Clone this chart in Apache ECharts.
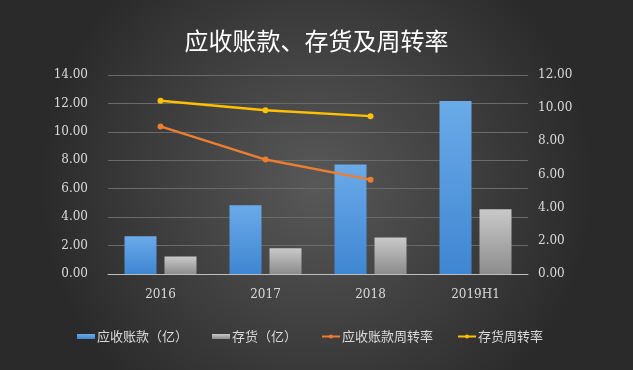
<!DOCTYPE html>
<html><head><meta charset="utf-8">
<script src="https://cdn.jsdelivr.net/npm/echarts@6/dist/echarts.min.js"></script>
<style>html,body{margin:0;padding:0;}#c{width:633px;height:370px;}</style>
</head><body><div id="c"></div>
<script>
const categories = ['2016', '2017', '2018', '2019H1'];
const receivables = [2.65, 4.83, 7.70, 12.17];
const inventory = [1.23, 1.82, 2.57, 4.55];
const receivableTurnover = [8.90, 6.90, 5.69, null];
const inventoryTurnover = [10.45, 9.87, 9.52, null];
const seriesNames = ['应收账款（亿）', '存货（亿）', '应收账款周转率', '存货周转率'];

const chart = echarts.init(document.getElementById('c'));
const axisFont = {color: '#d9d9d9', fontSize: 12, fontFamily: 'DejaVu Serif'};
chart.setOption({
  backgroundColor: {
    type: 'radial', x: 0.5, y: 0.5, r: 0.75,
    colorStops: [{offset: 0, color: '#585858'}, {offset: 1, color: '#2a2a2a'}]
  },
  title: {
    text: '应收账款、存货及周转率', left: 'center', top: 24,
    textStyle: {color: '#ffffff', fontSize: 24, fontWeight: 'normal', fontFamily: 'Noto Sans CJK SC'}
  },
  legend: {
    top: 325, left: 72, itemGap: 24, itemWidth: 18, itemHeight: 5,
    textStyle: {color: '#d9d9d9', fontSize: 13, fontFamily: 'Noto Sans CJK SC', padding: [0, 0, 0, -3]},
    data: [
      {name: seriesNames[0], icon: 'rect'},
      {name: seriesNames[1], icon: 'rect'},
      {name: seriesNames[2]},
      {name: seriesNames[3]}
    ]
  },
  grid: {left: 108, right: 105, top: 75, bottom: 96},
  xAxis: {
    type: 'category', data: categories,
    axisLine: {lineStyle: {color: '#bfbfbf', width: 1}},
    axisTick: {show: false},
    axisLabel: Object.assign({margin: 15}, axisFont)
  },
  yAxis: [
    {type: 'value', min: 0, max: 14, interval: 2,
     axisLine: {show: false}, axisTick: {show: false},
     splitLine: {lineStyle: {color: '#6a6a6a', width: 1}},
     axisLabel: Object.assign({margin: 20, formatter: v => v.toFixed(2)}, axisFont)},
    {type: 'value', min: 0, max: 12, interval: 2,
     axisLine: {show: false}, axisTick: {show: false}, splitLine: {show: false},
     axisLabel: Object.assign({margin: 10, formatter: v => v.toFixed(2)}, axisFont)}
  ],
  series: [
    {name: seriesNames[0], type: 'bar', data: receivables, barWidth: 32, barGap: '25%',
     itemStyle: {color: new echarts.graphic.LinearGradient(0, 0, 0, 1, [
       {offset: 0, color: '#6aaae8'}, {offset: 1, color: '#3f86d2'}])}},
    {name: seriesNames[1], type: 'bar', data: inventory, barWidth: 32,
     itemStyle: {color: new echarts.graphic.LinearGradient(0, 0, 0, 1, [
       {offset: 0, color: '#c9c9c9'}, {offset: 1, color: '#8c8c8c'}])}},
    {name: seriesNames[2], type: 'line', yAxisIndex: 1, data: receivableTurnover,
     symbol: 'circle', symbolSize: 6, lineStyle: {color: '#ed7d31', width: 2.5},
     itemStyle: {color: '#ed7d31'}},
    {name: seriesNames[3], type: 'line', yAxisIndex: 1, data: inventoryTurnover,
     symbol: 'circle', symbolSize: 6, lineStyle: {color: '#ffc000', width: 2.5},
     itemStyle: {color: '#ffc000'}}
  ]
});
</script></body></html>
